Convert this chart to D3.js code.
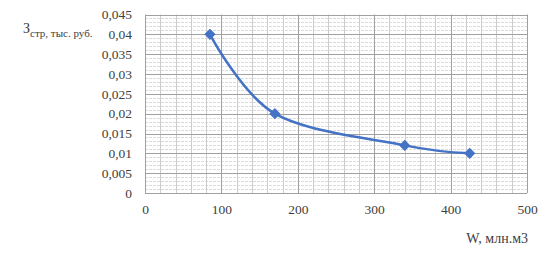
<!DOCTYPE html>
<html>
<head>
<meta charset="utf-8">
<script src="https://cdn.jsdelivr.net/npm/d3@7"></script>
<style>
  body { margin: 0; background: #fff; }
  svg { display: block; font-family: "Liberation Serif", "Times New Roman", serif; }
  text { fill: #404040; }
</style>
</head>
<body>
<svg id="chart" width="552" height="259"></svg>
<script>
// data
const volumes = [85, 170, 340, 425];          // W, млн.м3
const costs = [0.04, 0.02, 0.012, 0.01];       // З стр, тыс. руб.
const xTicks = [0, 100, 200, 300, 400, 500];
const yTicks = [0, 0.005, 0.01, 0.015, 0.02, 0.025, 0.03, 0.035, 0.04, 0.045];

const svg = d3.select('#chart');
const plotL = 145, plotR = 527, plotT = 14.5, plotB = 193;

const x = d3.scaleLinear().domain([0, 500]).range([plotL, plotR]);
const y = d3.scaleLinear().domain([0, 0.045]).range([plotB, plotT]);
const fmt = v => String(+v.toFixed(3)).replace('.', ',');

// minor horizontal grid, every 0.001
const minorY = d3.range(0, 46).map(i => i * 0.001).filter(v => Math.round(v * 1000) % 5 !== 0);
svg.append('g').selectAll('line').data(minorY).enter().append('line')
  .attr('x1', plotL).attr('x2', plotR)
  .attr('y1', d => Math.round(y(d)) + 0.5).attr('y2', d => Math.round(y(d)) + 0.5)
  .attr('stroke', '#dcdcdc').attr('stroke-dasharray', '3,1');

// minor vertical grid, every 20
const minorX = d3.range(0, 26).map(i => i * 20).filter(v => v % 100 !== 0);
svg.append('g').selectAll('line').data(minorX).enter().append('line')
  .attr('y1', plotT).attr('y2', plotB)
  .attr('x1', d => Math.round(x(d)) + 0.5).attr('x2', d => Math.round(x(d)) + 0.5)
  .attr('stroke', '#cccccc');

// major grid
svg.append('g').selectAll('line').data(yTicks).enter().append('line')
  .attr('x1', plotL).attr('x2', plotR)
  .attr('y1', d => Math.round(y(d)) + 0.5).attr('y2', d => Math.round(y(d)) + 0.5)
  .attr('stroke', '#a0a0a0');
svg.append('g').selectAll('line').data(xTicks).enter().append('line')
  .attr('y1', plotT).attr('y2', plotB)
  .attr('x1', d => Math.round(x(d)) + 0.5).attr('x2', d => Math.round(x(d)) + 0.5)
  .attr('stroke', '#a0a0a0');

// axes labels (no domain lines, Excel style)
const yAxis = svg.append('g').attr('transform', `translate(${plotL},0)`)
  .call(d3.axisLeft(y).tickValues(yTicks).tickFormat(fmt).tickSize(0).tickPadding(13));
const xAxis = svg.append('g').attr('transform', `translate(0,${plotB})`)
  .call(d3.axisBottom(x).tickValues(xTicks).tickFormat(d3.format('d')).tickSize(0).tickPadding(11));
[yAxis, xAxis].forEach(a => {
  a.attr('font-family', 'Liberation Serif').attr('font-size', 13.5);
  a.select('.domain').remove();
  a.selectAll('text').attr('fill', '#404040');
});

// series
const pts = volumes.map((v, i) => [v, costs[i]]);
svg.append('path').datum(pts)
  .attr('fill', 'none').attr('stroke', '#4472c4').attr('stroke-width', 2.5)
  .attr('d', d3.line().x(d => x(d[0])).y(d => y(d[1])).curve(d3.curveCatmullRom.alpha(0)));
svg.append('g').selectAll('path').data(pts).enter().append('path')
  .attr('transform', d => `translate(${x(d[0])},${y(d[1])}) rotate(45)`)
  .attr('d', d3.symbol(d3.symbolSquare, 48))
  .attr('fill', '#4472c4').attr('stroke', '#4472c4');

// titles
const yt = svg.append('text').attr('x', 23).attr('y', 33).attr('font-size', 14);
yt.append('tspan').text('З');
yt.append('tspan').attr('font-size', 11).attr('dy', 4).text('стр, тыс. руб.');

svg.append('text').attr('x', 528).attr('y', 243).attr('text-anchor', 'end')
  .attr('font-size', 14).text('W, млн.м3');
</script>
</body>
</html>
